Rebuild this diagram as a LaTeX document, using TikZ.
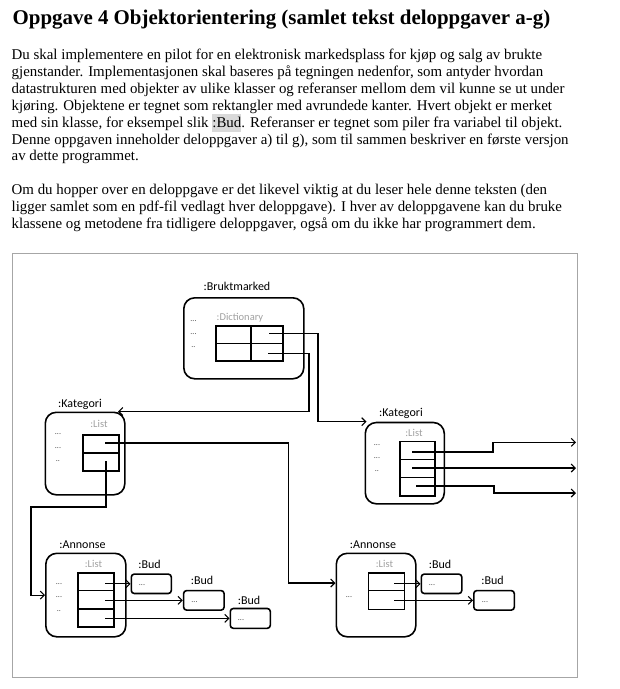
\documentclass[tikz,border=0pt]{standalone}
\usepackage{fontspec}
\setmainfont{Liberation Serif}
\newfontfamily\diagfont{Carlito}
\usetikzlibrary{arrows.meta}
\definecolor{framegray}{HTML}{A6A6A6}
\definecolor{lblgray}{HTML}{A0A0A0}
\definecolor{hlgray}{HTML}{D9D9D9}
\newcommand\hlbox[1]{\setbox0\hbox{#1}\rlap{\textcolor{hlgray}{\rule[-4.6pt]{\wd0}{17.6pt}}}\box0}
\begin{document}
\begin{tikzpicture}[x=1pt,y=-1pt,
  txt/.style={anchor=base west, inner sep=0pt, font=\fontsize{14.9}{16.9}\selectfont},
  ttl/.style={anchor=base west, inner sep=0pt, font=\fontsize{20.9}{24}\selectfont\bfseries},
  obj/.style={draw, line width=1.6pt, rounded corners=11pt, anchor=north west, inner sep=0pt},
  budbox/.style={draw, line width=1.6pt, rounded corners=3pt, anchor=north west, inner sep=0pt},
  cell/.style={draw, line width=1.6pt, anchor=north west, inner sep=0pt},
  cls/.style={anchor=base, inner sep=0pt, font=\diagfont\fontsize{12}{14}\selectfont},
  gcls/.style={anchor=base, inner sep=0pt, text=lblgray, font=\diagfont\fontsize{10.5}{12}\selectfont},
  dotsl/.style={anchor=base, inner sep=0pt, text=black!75, font=\diagfont\fontsize{8}{9}\selectfont},
  conn/.style={line width=1.1pt, -{Straight Barb[length=4pt,width=8pt]}},
]
\useasboundingbox (0,0) rectangle (620,689);

% ---------- text ----------
\node[ttl] (title) at (12.5,24) {Oppgave 4 Objektorientering (samlet tekst deloppgaver a-g)};
\node[txt] (l1) at (11.5,59.5) {Du skal implementere en pilot for en elektronisk markedsplass for kjøp og salg av brukte};
\node[txt] (l2) at (11.5,76.4) {gjenstander. Implementasjonen skal baseres på tegningen nedenfor, som antyder hvordan};
\node[txt] (l3) at (11.5,93.3) {datastrukturen med objekter av ulike klasser og referanser mellom dem vil kunne se ut under};
\node[txt] (l4) at (11.5,110.2) {kjøring. Objektene er tegnet som rektangler med avrundede kanter. Hvert objekt er merket};
\node[txt] (l5) at (11.5,127.1) {med sin klasse, for eksempel slik \hlbox{:Bud}. Referanser er tegnet som piler fra variabel til objekt.};
\node[txt] (l6) at (11.5,144.0) {Denne oppgaven inneholder deloppgaver a) til g), som til sammen beskriver en første versjon};
\node[txt] (l7) at (11.5,160.9) {av dette programmet.};
\node[txt] (l8) at (11.5,194.7) {Om du hopper over en deloppgave er det likevel viktig at du leser hele denne teksten (den};
\node[txt] (l9) at (11.5,211.6) {ligger samlet som en pdf-fil vedlagt hver deloppgave). I hver av deloppgavene kan du bruke};
\node[txt] (l10) at (11.5,228.5) {klassene og metodene fra tidligere deloppgaver, også om du ikke har programmert dem.};

% ---------- frame ----------
\draw[framegray, line width=1pt] (12,253) rectangle (577,677);

% ---------- Bruktmarked ----------
\node[obj, minimum width=120pt, minimum height=81pt] (bm) at (183,297) {};
\node[cls] (bml) at (237,290) {:Bruktmarked};
\node[gcls] (dictl) at (240,320) {:Dictionary};
\node[dotsl] (bmd1) at (193.5,321) {...};
\node[dotsl] (bmd2) at (193.5,334) {...};
\node[dotsl] (bmd3) at (193.5,347) {..};
\node[cell, minimum width=35pt, minimum height=17.5pt] (d11) at (215,325) {};
\node[cell, minimum width=32pt, minimum height=17.5pt] (d12) at (250,325) {};
\node[cell, minimum width=35pt, minimum height=17.5pt] (d21) at (215,342.5) {};
\node[cell, minimum width=32pt, minimum height=17.5pt] (d22) at (250,342.5) {};

% ---------- Kategori (left) ----------
\node[obj, minimum width=79.5pt, minimum height=82.5pt] (k1) at (44.5,411.5) {};
\node[cls] (k1l) at (80,407) {:Kategori};
\node[gcls] (k1ll) at (99,427.5) {:List};
\node[dotsl] (k1d1) at (58,434) {...};
\node[dotsl] (k1d2) at (58,448) {...};
\node[dotsl] (k1d3) at (58,461) {..};
\node[cell, minimum width=36pt, minimum height=18pt] (k1a) at (82,434) {};
\node[cell, minimum width=36pt, minimum height=18pt] (k1b) at (82,452) {};

% ---------- Kategori (right) ----------
\node[obj, minimum width=79pt, minimum height=81.3pt] (k2) at (364.5,421.7) {};
\node[cls] (k2l) at (401,416.5) {:Kategori};
\node[gcls] (k2ll) at (414,436.5) {:List};
\node[dotsl] (k2d1) at (377,445) {...};
\node[dotsl] (k2d2) at (377,458.5) {...};
\node[dotsl] (k2d3) at (377,471.5) {..};
\node[cell, minimum width=35pt, minimum height=18pt] (k2a) at (399,440.5) {};
\node[cell, minimum width=35pt, minimum height=18pt] (k2b) at (399,458.5) {};
\node[cell, minimum width=35pt, minimum height=18.5pt] (k2c) at (399,476.5) {};

% ---------- Annonse (left) ----------
\node[obj, minimum width=80pt, minimum height=83.5pt] (a1) at (45,552.5) {};
\node[cls] (a1l) at (82.5,548) {:Annonse};
\node[gcls] (a1ll) at (93.5,567.5) {:List};
\node[dotsl] (a1d1) at (59,584.5) {...};
\node[dotsl] (a1d2) at (59,597.5) {...};
\node[dotsl] (a1d3) at (59,611) {..};
\node[cell, minimum width=36pt, minimum height=17.5pt] (a1a) at (77,572) {};
\node[cell, minimum width=36pt, minimum height=18.7pt] (a1b) at (77,589.5) {};
\node[cell, minimum width=36pt, minimum height=17.8pt] (a1c) at (77,608.2) {};
\node[budbox, minimum width=40pt, minimum height=19.4pt] (b1) at (130.5,573.3) {};
\node[budbox, minimum width=40.5pt, minimum height=19.5pt] (b2) at (182.8,589.8) {};
\node[budbox, minimum width=40pt, minimum height=19.8pt] (b3) at (229.5,607.7) {};
\node[cls] (b1l) at (149.5,568.5) {:Bud};
\node[cls] (b2l) at (202,584) {:Bud};
\node[cls] (b3l) at (249,604.5) {:Bud};
\node[dotsl] (b1d) at (142,585.5) {...};
\node[dotsl] (b2d) at (194.5,602) {...};
\node[dotsl] (b3d) at (241,620) {...};

% ---------- Annonse (right) ----------
\node[obj, minimum width=79.5pt, minimum height=83.5pt] (a2) at (335.5,552.5) {};
\node[cls] (a2l) at (373,548) {:Annonse};
\node[gcls] (a2ll) at (384.5,567.5) {:List};
\node[dotsl] (a2d1) at (349,597.5) {...};
\node[cell, minimum width=36pt, minimum height=17.5pt] (a2a) at (367.5,572) {};
\node[cell, minimum width=36pt, minimum height=19pt] (a2b) at (367.5,589.5) {};
\node[budbox, minimum width=40.5pt, minimum height=19.4pt] (b4) at (420.5,573.3) {};
\node[budbox, minimum width=40.5pt, minimum height=19.5pt] (b5) at (473,589.8) {};
\node[cls] (b4l) at (440,568.5) {:Bud};
\node[cls] (b5l) at (492.5,584) {:Bud};
\node[dotsl] (b4d) at (432,585.5) {...};
\node[dotsl] (b5d) at (485,602) {...};

% ---------- connector helper coordinates ----------
\coordinate (s1) at (269,333.5);
\coordinate (s2) at (268,353.5);
\coordinate (v1) at (318,0);
\coordinate (v2) at (309,0);
\coordinate (t1) at (366.5,421.7);
\coordinate (t2) at (118,411.5);
\coordinate (s3) at (105,443);
\coordinate (v3) at (288.5,0);
\coordinate (t3) at (335.5,583);
\coordinate (s4) at (106,461);
\coordinate (h4) at (31,507);
\coordinate (s5) at (412,452);
\coordinate (s6) at (412,468);
\coordinate (s7) at (416,486);
\coordinate (v5) at (493,0);
\coordinate (v7) at (494,0);
\coordinate (e5) at (576,442.3);
\coordinate (e6) at (576,468);
\coordinate (e7) at (576,493);
\coordinate (xa1) at (105,0);
\coordinate (xa2) at (394,0);

% ---------- connectors ----------
\draw[conn] (s1) -| (v1 |- t1) -- (t1);
\draw[conn] (s2) -| (v2 |- t2) -- (t2);
\draw[conn] (s3) -| (v3 |- t3) -- (t3);
\draw[conn] (s4) |- (h4) |- (a1.west);
\draw[conn] (s5) -| (v5 |- e5) -- (e5);
\draw[conn] (s6) -- (e6);
\draw[conn] (s7) -| (v7 |- e7) -- (e7);
\draw[conn] (xa1 |- b1.west) -- (b1.west);
\draw[conn] (xa1 |- b2.west) -- (b2.west);
\draw[conn] (xa1 |- b3.west) -- (b3.west);
\draw[conn] (xa2 |- b4.west) -- (b4.west);
\draw[conn] (xa2 |- b5.west) -- (b5.west);
\end{tikzpicture}
\end{document}
